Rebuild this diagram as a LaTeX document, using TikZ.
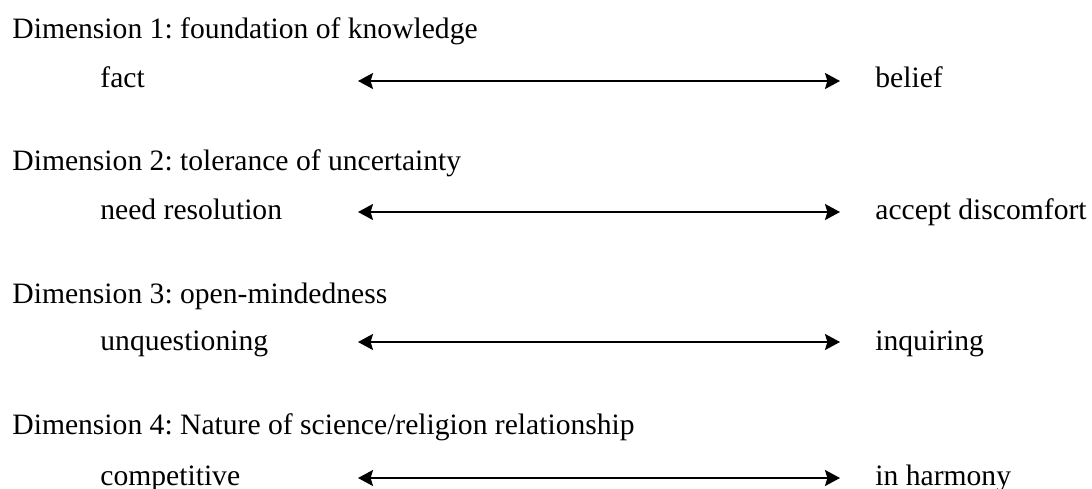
\documentclass[tikz,border=0pt]{standalone}
\usepackage{fontspec}
\setmainfont{Liberation Serif}
\usetikzlibrary{arrows.meta}
\frenchspacing
\tikzset{
  dimtitle/.style={anchor=base west, inner sep=0pt, font=\fontsize{14.8}{16}\selectfont},
  pole/.style={anchor=base west, inner sep=0pt, font=\fontsize{14.8}{16}\selectfont},
  dimarrow/.style={line width=1pt, {Stealth[length=7.5pt,width=8pt,inset=1.2pt]}-{Stealth[length=7.5pt,width=8pt,inset=1.2pt]}}
}
\begin{document}
\begin{tikzpicture}[x=0.5pt,y=-0.5pt]
\useasboundingbox (0,0) rectangle (1092,488);
% Dimension 1
\node[dimtitle] (t1) at (12,38) {Dimension 1: foundation of knowledge};
\node[pole] (l1) at (100,87) {fact};
\node[pole] (r1) at (875,87) {belief};
\coordinate (a1l) at (358,81);
\coordinate (a1r) at (840,81);
\draw[dimarrow] (a1l) -- (a1r);
% Dimension 2
\node[dimtitle] (t2) at (12,170) {Dimension 2: tolerance of uncertainty};
\node[pole] (l2) at (100,219) {need resolution};
\node[pole] (r2) at (875,219) {accept discomfort};
\coordinate (a2l) at (358,212);
\coordinate (a2r) at (840,212);
\draw[dimarrow] (a2l) -- (a2r);
% Dimension 3
\node[dimtitle] (t3) at (12,303) {Dimension 3: open-mindedness};
\node[pole] (l3) at (100,350) {unquestioning};
\node[pole] (r3) at (875,350) {inquiring};
\coordinate (a3l) at (358,342);
\coordinate (a3r) at (840,342);
\draw[dimarrow] (a3l) -- (a3r);
% Dimension 4
\node[dimtitle] (t4) at (12,434) {Dimension 4: Nature of science/religion relationship};
\node[pole] (l4) at (100,485) {competitive};
\node[pole] (r4) at (875,485) {in harmony};
\coordinate (a4l) at (358,478);
\coordinate (a4r) at (840,478);
\draw[dimarrow] (a4l) -- (a4r);
\end{tikzpicture}
\end{document}
